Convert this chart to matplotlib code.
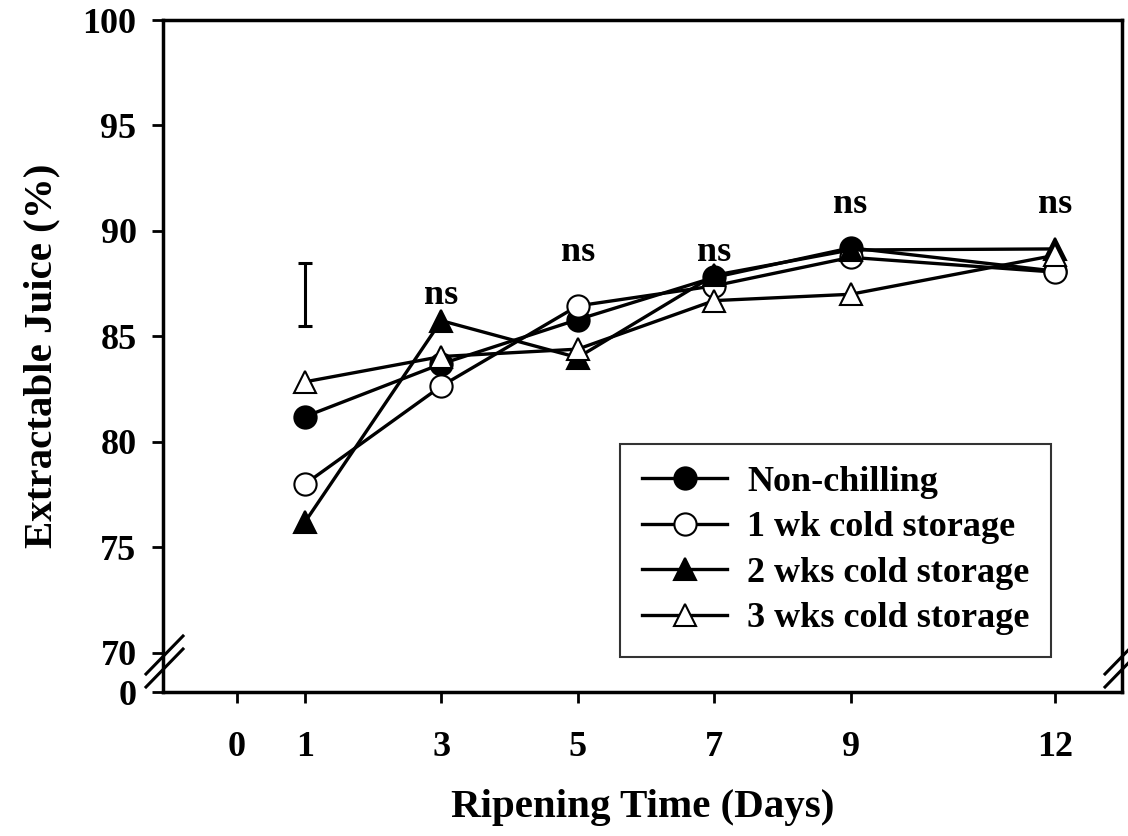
import numpy as np
import matplotlib.pyplot as plt

plt.rcParams['font.family'] = 'Liberation Serif'
plt.rcParams['font.weight'] = 'bold'

days = [1, 3, 5, 7, 9, 12]
non_chilling = [81.2, 83.7, 85.8, 87.8, 89.2, 88.1]
cold_1wk = [78.0, 82.65, 86.45, 87.4, 88.75, 88.05]
cold_2wk = [76.2, 85.75, 84.0, 87.9, 89.1, 89.15]
cold_3wk = [82.85, 84.05, 84.4, 86.7, 87.0, 88.85]
labels = ["Non-chilling", "1 wk cold storage", "2 wks cold storage", "3 wks cold storage"]

ns_days = [3, 5, 7, 9, 12]
ns_y = [86.95, 89.0, 89.0, 91.25, 91.25]

lsd_x, lsd_center, lsd_half = 1, 87.0, 1.5

x_ticks = [0, 1, 3, 5, 7, 9, 12]
y_ticks = [100, 95, 90, 85, 80, 75, 70]
y_bottom = 68.15

fig = plt.figure(figsize=(11.28, 8.36), dpi=100)
ax = fig.add_axes([163 / 1128, 1 - 692 / 836, 959 / 1128, 672 / 836])

styles = [
    dict(marker='o', markerfacecolor='black'),
    dict(marker='o', markerfacecolor='white'),
    dict(marker='^', markerfacecolor='black'),
    dict(marker='^', markerfacecolor='white'),
]
series = [non_chilling, cold_1wk, cold_2wk, cold_3wk]
for vals, lab, st in zip(series, labels, styles):
    ax.plot(days, vals, color='black', lw=2.4, markersize=16,
            markeredgecolor='black', markeredgewidth=1.5, label=lab, **st)

ax.errorbar([lsd_x], [lsd_center], yerr=[lsd_half], fmt='none',
            ecolor='black', elinewidth=2.2, capsize=5, capthick=2.2)

for d, y in zip(ns_days, ns_y):
    ax.text(d, y, "ns", ha='center', va='center', fontsize=26, fontweight='bold')

ax.set_xlim(-1.08, 12.98)
ax.set_ylim(y_bottom, 100)
ax.set_xticks(x_ticks)
ax.set_xticklabels([str(t) for t in x_ticks])
ax.set_yticks(y_ticks + [y_bottom])
ax.set_yticklabels([str(t) for t in y_ticks] + ["0"])
ax.tick_params(axis='x', direction='out', length=8, width=2, pad=20, labelsize=26)
ax.tick_params(axis='y', direction='out', length=8, width=2, pad=11, labelsize=26)
for s in ax.spines.values():
    s.set_linewidth(2.5)

ax.set_xlabel("Ripening Time (Days)", fontsize=29.5, fontweight='bold', labelpad=18)
ax.set_ylabel("Extractable Juice (%)", fontsize=29.5, fontweight='bold', labelpad=16)

# axis break marks
dx = 1 / 959
dy = 1 / 672
for xc in [0, 1]:
    for yc in [(692 - 655) * dy, (692 - 668) * dy]:
        ax.plot([xc - 17 * dx, xc + 20 * dx], [yc - 19 * dy, yc + 19 * dy],
                transform=ax.transAxes, color='black', lw=2.2, clip_on=False)

leg = ax.legend(loc='lower right', bbox_to_anchor=(0.926, 0.052), fontsize=26,
                frameon=True, fancybox=False, edgecolor='black', handlelength=2.36,
                labelspacing=0.34, borderpad=0.6, handletextpad=0.55,
                borderaxespad=0)
leg.get_frame().set_linewidth(1.5)

fig.savefig("out.png", dpi=100)
